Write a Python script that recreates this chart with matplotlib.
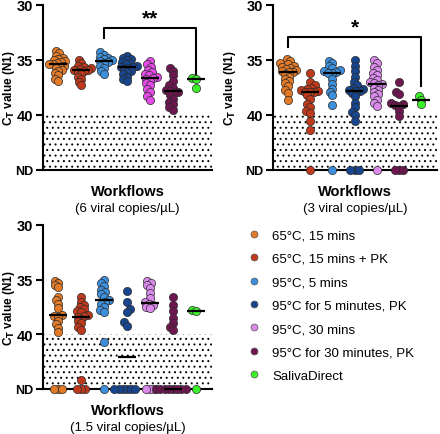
import numpy as np
import matplotlib
matplotlib.use("Agg")
import matplotlib.pyplot as plt
from matplotlib.lines import Line2D

plt.rcParams['font.family'] = ['Liberation Sans', 'DejaVu Sans']
plt.rcParams['hatch.linewidth'] = 0.7

ND = 45.0  # position of "not detected"

workflows = ["65°C, 15 mins", "65°C, 15 mins + PK", "95°C, 5 mins",
             "95°C for 5 minutes, PK", "95°C, 30 mins",
             "95°C for 30 minutes, PK", "SalivaDirect"]
colors = ["#E27A27", "#BF3A1C", "#3D8FDB", "#17458E", "#D98AEA", "#6E1650", "#3CF02A"]
pink_panel1 = "#E24BE6"

# ---- 6 viral copies/uL ----
c6_orange = [34.2, 34.4, 34.6, 34.8, 34.9, 35.0, 35.1, 35.2, 35.3, 35.4, 35.4, 35.5,
             35.6, 35.7, 35.9, 36.0, 36.2, 36.4, 36.7, 36.9]
c6_red = [35.0, 35.3, 35.5, 35.6, 35.7, 35.8, 35.9, 35.9, 36.0, 36.1, 36.3, 36.5, 36.7, 37.0, 37.3]
c6_lblue = [34.3, 34.5, 34.7, 34.8, 34.9, 35.0, 35.1, 35.2, 35.3, 35.5, 35.7, 36.0, 36.3]
c6_navy = [34.6, 34.8, 34.9, 35.0, 35.2, 35.3, 35.4, 35.5, 35.6, 35.6, 35.7, 35.8,
           36.0, 36.1, 36.3, 36.5, 36.7, 36.9]
c6_pink = [35.1, 35.4, 35.6, 35.9, 36.1, 36.3, 36.4, 36.5, 36.6, 36.7, 36.9, 37.1,
           37.3, 37.6, 37.9, 38.3, 38.6]
c6_purple = [35.7, 36.0, 36.4, 36.9, 37.3, 37.5, 37.7, 37.8, 37.9, 38.0, 38.2, 38.5,
             38.8, 39.0, 39.3, 39.5]
c6_green = [36.6, 36.7, 37.5]

# ---- 3 viral copies/uL ----
c3_orange = [34.9, 35.1, 35.3, 35.4, 35.5, 35.6, 35.7, 35.8, 35.9, 36.0, 36.1, 36.1,
             36.3, 36.5, 36.7, 36.9, 37.1, 37.4, 37.7, 38.0, 38.6]
c3_red = [36.2, 37.0, 37.3, 37.5, 37.6, 37.7, 37.8, 37.9, 37.9, 37.9, 38.2, 38.5, 39.0,
          39.3, 39.6, 39.8, 40.5, 41.4, ND]
c3_lblue = [35.1, 35.3, 35.5, 35.7, 35.9, 36.0, 36.1, 36.2, 36.2, 36.7, 37.2, 37.6,
            37.9, 38.2, 39.1, ND]
c3_navy = [35.0, 35.5, 36.0, 36.5, 37.0, 37.3, 37.5, 37.6, 37.7, 37.8, 37.8, 38.0,
           38.3, 38.9, 39.3, 39.7, 40.0, 40.5, ND, ND, ND]
c3_pink = [35.0, 35.3, 35.6, 35.9, 36.2, 36.4, 36.6, 36.8, 37.0, 37.1, 37.2, 37.3,
           37.5, 37.7, 37.9, 38.1, 38.3, 38.6, 38.9, 39.2, ND]
c3_purple = [37.0, 37.9, 38.1, 38.9, 39.0, 39.1, 39.2, 39.6, 40.1, ND, ND, ND]
c3_green = [38.3, 38.6, 39.0]

# ---- 1.5 viral copies/uL ----
c15_orange = [35.1, 35.3, 35.5, 35.7, 36.6, 36.9, 37.2, 37.6, 38.2, 38.3, 38.4, 38.8,
              39.1, 39.4, 39.8, ND, ND, ND]
c15_red = [36.6, 37.0, 37.3, 37.5, 37.7, 37.9, 38.0, 38.2, 38.3, 38.4, 38.6, 38.8,
           39.0, 39.3, 39.6, 44.2, ND, ND, ND]
c15_lblue = [35.0, 35.3, 35.6, 35.9, 36.1, 36.3, 36.6, 36.9, 37.0, 37.2, 37.5, 37.8,
             38.0, 40.7, ND]
c15_navy = [36.0, 37.0, 37.7, 38.0, 38.9, 39.2, ND, ND, ND, ND, ND, ND]
c15_pink = [35.1, 35.3, 35.5, 35.8, 36.2, 36.7, 37.0, 37.2, 37.3, 37.5, 37.6, ND, ND, ND]
c15_purple = [36.6, 37.3, 37.9, 38.5, 39.0, 39.3, 39.6, ND, ND, ND, ND, ND, ND, ND, ND]
c15_green = [37.8, 37.9, ND]

panels = [
    ("(6 viral copies/µL)", [c6_orange, c6_red, c6_lblue, c6_navy, c6_pink, c6_purple, c6_green]),
    ("(3 viral copies/µL)", [c3_orange, c3_red, c3_lblue, c3_navy, c3_pink, c3_purple, c3_green]),
    ("(1.5 viral copies/µL)", [c15_orange, c15_red, c15_lblue, c15_navy, c15_pink, c15_purple, c15_green]),
]
# significance brackets: (panel, group from, group to, label, top, left end, right end)
brackets = [(0, 2, 6, "**", 32.1, 33.0, 36.3), (1, 0, 6, "*", 32.9, 33.8, 37.4)]

W, H = 440, 435
fig = plt.figure(figsize=(W / 100, H / 100), dpi=100)


def fx(px):
    return px / W


def fy(py):
    return 1 - py / H


ax_rects = [
    (43, 6, 212, 171),
    (273, 6, 437, 171),
    (43, 226, 212, 390),
]
ylabel_px = [17, 238, 17]
axes = []
for (l, t, r, b) in ax_rects:
    ax = fig.add_axes([fx(l), fy(b), fx(r - l), (b - t) / H])
    axes.append(ax)

DIAM = 8.2   # drawn marker diameter (px)
DLAY = 4.2   # spacing used for the swarm layout (markers overlap like the original)


def swarm(ax, xc, vals):
    vals = np.asarray(vals, float)
    pts = ax.transData.transform(np.column_stack([np.full(len(vals), xc), vals]))
    order = np.argsort(pts[:, 1])
    placed = []
    out = np.zeros_like(pts)
    for i in order:
        x0, y0 = pts[i]
        cands = [x0]
        for (px, py) in placed:
            dy = py - y0
            if abs(dy) < DLAY:
                dx = np.sqrt(DLAY ** 2 - dy ** 2) + 0.01
                cands += [px + dx, px - dx]
        cands = sorted(cands, key=lambda c: (abs(c - x0), c))
        for c in cands:
            ok = all((c - px) ** 2 + (y0 - py) ** 2 >= DLAY ** 2 - 1e-6 for (px, py) in placed)
            if ok:
                placed.append((c, y0))
                out[i] = (c, y0)
                break
    return ax.transData.inverted().transform(out)


for k, (ax, (sub, groups)) in enumerate(zip(axes, panels)):
    ax.set_xlim(-0.66, 6.7)
    ax.set_ylim(ND, 30)
    ax.axhspan(40, ND, facecolor='white', edgecolor='black', hatch='...', linewidth=0, zorder=0)
    for gi, vals in enumerate(groups):
        col = colors[gi]
        if k == 0 and gi == 4:
            col = pink_panel1
        xy = swarm(ax, gi, vals)
        ax.scatter(xy[:, 0], xy[:, 1], s=(DIAM * 0.72) ** 2, c=col, edgecolors='#2a2a2a',
                   linewidths=0.5, zorder=3, clip_on=False)
        med = np.median(vals)
        ax.plot([gi - 0.4, gi + 0.4], [med, med], color='black', lw=1.6, zorder=4,
                solid_capstyle='butt', clip_on=False)
    for s in ['top', 'right']:
        ax.spines[s].set_visible(False)
    ax.spines['left'].set_linewidth(1.5)
    ax.spines['bottom'].set_linewidth(1.5)
    ax.spines['left'].set_zorder(5)
    ax.spines['bottom'].set_zorder(2)
    ax.set_yticks([30, 35, 40, ND])
    ax.set_yticklabels(["30", "35", "40", "ND"], fontweight='bold')
    for lbl in ax.get_yticklabels():
        lbl.set_fontsize(9 if lbl.get_text() == "ND" else 10.5)
    ax.tick_params(axis='y', length=5, width=1.5, pad=2)
    ax.set_xticks([])
    ax.set_ylabel(r"C$_\mathbf{T}$ value (N1)", fontsize=8.5, fontweight='bold')
    l, t, r, b = ax_rects[k]
    ax.yaxis.set_label_coords((ylabel_px[k] - l) / (r - l), 0.5)
    ax.set_xlabel("Workflows", fontsize=10.5, fontweight='bold', labelpad=10)
    ax.text(0.5, -0.195, sub, transform=ax.transAxes, ha='center', va='top', fontsize=9.5)

for (pi, g0, g1, lab, ytop, yl, yr) in brackets:
    ax = axes[pi]
    ax.plot([g0, g0, g1, g1], [yl, ytop, ytop, yr], color='black', lw=1.5, zorder=4,
            clip_on=False)
    ax.text((g0 + g1) / 2, ytop - 0.05, lab, ha='center', va='bottom', fontsize=15,
            fontweight='bold')

handles = [Line2D([], [], marker='o', linestyle='none', markersize=5, markerfacecolor=c,
                  markeredgecolor='#555555', markeredgewidth=0.5) for c in colors]
fig.legend(handles, workflows, loc='upper left', bbox_to_anchor=(fx(247), fy(230)),
           frameon=False, fontsize=9.5, handlelength=1.0, handletextpad=0.9,
           labelspacing=0.85, borderpad=0, borderaxespad=0)

fig.savefig("out.png", dpi=100)
